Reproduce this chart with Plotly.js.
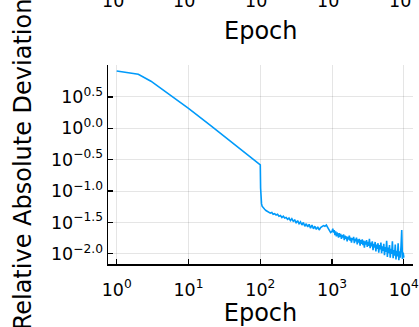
<!DOCTYPE html>
<html>
<head>
<meta charset="utf-8">
<script src="https://cdn.plot.ly/plotly-3.0.1.min.js"></script>
<style>html,body{margin:0;padding:0;background:#fff;}#chart{width:419px;height:327px;}</style>
</head>
<body>
<div id="chart"></div>
<script>
// Epochs (x values)
const epochs = [
  1, 2, 3, 4, 5, 7, 10, 20, 30, 50, 70,
  100, 101, 102, 104, 106, 110, 115, 120, 126, 132, 138, 145, 151, 158, 166, 174, 182, 191,
  200, 209, 219, 229, 240, 251, 263, 275, 288, 302, 316, 331, 347, 363, 380, 398, 417, 437,
  457, 479, 501, 525, 550, 575, 603, 631, 661, 692, 724, 759, 794, 832, 871, 912, 955,
  1000, 1023, 1047, 1072, 1096, 1122, 1148, 1175, 1202, 1230, 1259, 1288, 1318, 1349, 1380,
  1413, 1445, 1479, 1514, 1549, 1585, 1622, 1660, 1698, 1738, 1778, 1820, 1862, 1905, 1950,
  1995, 2042, 2089, 2138, 2188, 2239, 2291, 2344, 2399, 2455, 2512, 2570, 2630, 2692, 2754,
  2818, 2884, 2951, 3020, 3090, 3162, 3236, 3311, 3388, 3467, 3548, 3631, 3715, 3802, 3890,
  3981, 4074, 4169, 4266, 4365, 4467, 4571, 4677, 4786, 4898, 5012, 5129, 5248, 5370, 5495,
  5623, 5754, 5888, 6026, 6166, 6310, 6457, 6607, 6761, 6918, 7079, 7244, 7413, 7586, 7762,
  7943, 8128, 8318, 8511, 8710, 8913, 9120, 9333, 9550, 9772, 10000
];
const deviationExponent = [
  0.912, 0.86, 0.75, 0.65, 0.57, 0.45, 0.318, 0.05, -0.11, -0.31, -0.44,
  -0.584, -0.95, -1.10, -1.20, -1.24, -1.27, -1.29, -1.31, -1.32, -1.33, -1.35, -1.34, -1.37, -1.36, -1.38, -1.37, -1.40, -1.39,
  -1.42, -1.40, -1.43, -1.42, -1.45, -1.43, -1.47, -1.44, -1.48, -1.46, -1.51, -1.47, -1.52, -1.49, -1.54, -1.50, -1.56, -1.52,
  -1.57, -1.53, -1.59, -1.54, -1.60, -1.56, -1.61, -1.57, -1.62, -1.58, -1.57, -1.55, -1.56, -1.54, -1.58, -1.62, -1.66,
  -1.64, -1.60, -1.66, -1.62, -1.70, -1.64, -1.72, -1.66, -1.69, -1.74, -1.67, -1.73, -1.68, -1.76, -1.70,
  -1.74, -1.69, -1.78, -1.71, -1.76, -1.72, -1.80, -1.73, -1.77, -1.71, -1.79, -1.74, -1.82, -1.75, -1.78,
  -1.73, -1.83, -1.76, -1.80, -1.74, -1.85, -1.77, -1.82, -1.76, -1.87, -1.78, -1.84, -1.77, -1.86, -1.79,
  -1.90, -1.80, -1.85, -1.78, -1.89, -1.81, -1.87, -1.76, -1.91, -1.82, -1.88, -1.80, -1.94, -1.84, -1.90,
  -1.81, -1.96, -1.85, -1.92, -1.83, -1.98, -1.86, -1.93, -1.82, -1.99, -1.88, -1.95, -1.84, -2.02, -1.89,
  -1.97, -1.79, -2.05, -1.90, -1.99, -1.86, -2.06, -1.92, -2.00, -1.80, -2.07, -1.94, -2.03, -1.85, -2.09,
  -1.95, -2.04, -1.83, -2.10, -1.96, -2.06, -1.88, -1.62, -2.08, -1.98, -2.06
];
// Axis tick labels
const xTickExponents = ["0", "1", "2", "3", "4"];
const yTickExponents = ["0.5", "0.0", "−0.5", "−1.0", "−1.5", "−2.0"];
const yTickLogs = [0.5, 0.0, -0.5, -1.0, -1.5, -2.0];
const xTitle = "Epoch";
const yTitle = "Relative Absolute Deviation";

const deviation = deviationExponent.map(v => Math.pow(10, v));
const font = "DejaVu Sans, sans-serif";

const trace = {
  x: epochs, y: deviation, type: "scatter", mode: "lines",
  line: {color: "#009AFA", width: 1.6}, showlegend: false, hoverinfo: "skip"
};

// Cropped remains of the subplot above (its tick labels and x title)
const annotations = xTickExponents.map((e, i) => ({
  xref: "x", yref: "paper", x: i, y: 1.327, yanchor: "middle", xanchor: "center",
  text: "10<sup>" + e + "</sup>", showarrow: false,
  font: {family: font, size: 17.5, color: "#000"}
}));
annotations.push({
  xref: "paper", yref: "paper", x: 0.5, y: 1.17, yanchor: "middle", xanchor: "center",
  text: xTitle, showarrow: false, font: {family: font, size: 24, color: "#000"}
});

const layout = {
  width: 419, height: 327,
  margin: {l: 108, r: 6, t: 65, b: 63, pad: 0},
  paper_bgcolor: "#fff", plot_bgcolor: "#fff",
  font: {family: font, color: "#000"},
  xaxis: {
    type: "log", range: [-0.121, 4.127], autorange: false,
    tickvals: xTickExponents.map((e, i) => Math.pow(10, i)),
    ticktext: xTickExponents.map(e => "10<sup>" + e + "</sup>"),
    tickfont: {family: font, size: 17.5, color: "#000"},
    ticklabeloverflow: "allow", ticklabelstandoff: 9,
    ticks: "inside", ticklen: 5, tickwidth: 1.2, tickcolor: "#000",
    showline: true, linecolor: "#000", linewidth: 1.5, mirror: false,
    showgrid: true, gridcolor: "rgba(0,0,0,0.1)", gridwidth: 1,
    zeroline: false,
    title: {text: xTitle, font: {family: font, size: 24, color: "#000"}, standoff: 6}
  },
  yaxis: {
    type: "log", range: [-2.161, 1.008], autorange: false,
    tickvals: yTickLogs.map(v => Math.pow(10, v)),
    ticktext: yTickExponents.map(e => "10<sup>" + e + "</sup>"),
    tickfont: {family: font, size: 17.5, color: "#000"},
    ticklabeloverflow: "allow",
    ticks: "inside", ticklen: 5, tickwidth: 1.2, tickcolor: "#000",
    showline: true, linecolor: "#000", linewidth: 1.5, mirror: false,
    showgrid: true, gridcolor: "rgba(0,0,0,0.1)", gridwidth: 1,
    zeroline: false,
    title: {text: yTitle, font: {family: font, size: 24, color: "#000"}, standoff: 12}
  },
  annotations: annotations
};

Plotly.newPlot("chart", [trace], layout, {staticPlot: true, displayModeBar: false});
</script>
</body>
</html>
